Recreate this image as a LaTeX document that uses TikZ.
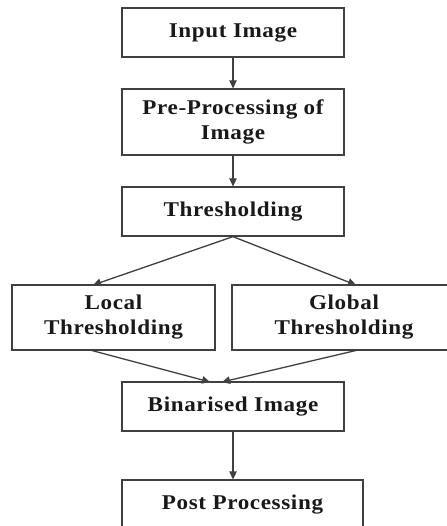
\documentclass[tikz,border=0pt]{standalone}
\usepackage{fontspec}
\newfontfamily\boxfont{Liberation Serif}[FakeStretch=1.1,LetterSpace=3]
\usetikzlibrary{arrows.meta}
\begin{document}
\begin{tikzpicture}[x=1pt,y=-1pt,
  box/.style={draw=black!75, line width=1.3pt, rectangle, inner sep=0pt, align=center,
    font=\boxfont\bfseries\fontsize{21}{25}\selectfont, text=black!90},
  conn/.style={draw=black!75, line width=1.3pt, -{Triangle[length=8pt,width=7.5pt]}}]
\useasboundingbox (0,0) rectangle (446,526);
\fill[white] (0,0) rectangle (446,526);
\node[box, minimum width=222pt, minimum height=49pt] (input) at (233,32.5) {Input Image};
\node[box, minimum width=222pt, minimum height=66pt] (pre) at (233,122) {Pre-Processing of\\Image};
\node[box, minimum width=222pt, minimum height=49pt] (thr) at (233,211.5) {Thresholding};
\node[box, minimum width=203pt, minimum height=65pt] (local) at (113.5,317.5) {Local\\Thresholding};
\node[box, minimum width=224pt, minimum height=65pt] (global) at (344,317.5) {Global\\Thresholding};
\node[box, minimum width=222pt, minimum height=49pt] (bin) at (233,406.5) {Binarised Image};
\node[box, minimum width=241pt, minimum height=49pt] (post) at (242.5,504.5) {Post Processing};
\coordinate (lt) at (93,285);
\coordinate (gt) at (356,285);
\coordinate (lb) at (90,350);
\coordinate (gb) at (358,350);
\coordinate (bl) at (210,382);
\coordinate (br) at (222,382);
\path[conn] (input) -- (pre);
\path[conn] (pre) -- (thr);
\path[conn] (thr.south) -- (lt);
\path[conn] (thr.south) -- (gt);
\path[conn] (lb) -- (bl);
\path[conn] (gb) -- (br);
\path[conn] (bin.south) -- (bin.south |- post.north);
\end{tikzpicture}
\end{document}
